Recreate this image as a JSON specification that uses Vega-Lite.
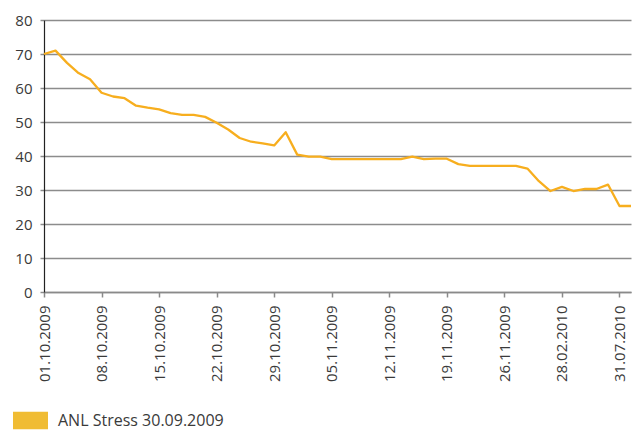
{
  "$schema": "https://vega.github.io/schema/vega-lite/v6.json",
  "width": 587,
  "height": 272,
  "autosize": {"type": "none"},
  "padding": {"left": 44, "top": 20, "right": 2, "bottom": 146},
  "background": "white",
  "config": {
    "view": {"stroke": null},
    "font": "Open Sans",
    "axis": {"labelFont": "Open Sans", "labelFontSize": 15, "labelColor": "#3a3a3a"},
    "legend": {"labelFont": "Open Sans", "labelFontSize": 16, "labelColor": "#3a3a3a", "labelLimit": 400}
  },
  "data": {
    "values": [
      {"date": "01.10.2009", "value": 70.0, "series": "ANL Stress 30.09.2009"},
      {"date": "02.10.2009", "value": 71.0, "series": "ANL Stress 30.09.2009"},
      {"date": "05.10.2009", "value": 67.4, "series": "ANL Stress 30.09.2009"},
      {"date": "06.10.2009", "value": 64.4, "series": "ANL Stress 30.09.2009"},
      {"date": "07.10.2009", "value": 62.6, "series": "ANL Stress 30.09.2009"},
      {"date": "08.10.2009", "value": 58.6, "series": "ANL Stress 30.09.2009"},
      {"date": "09.10.2009", "value": 57.5, "series": "ANL Stress 30.09.2009"},
      {"date": "12.10.2009", "value": 57.0, "series": "ANL Stress 30.09.2009"},
      {"date": "13.10.2009", "value": 54.8, "series": "ANL Stress 30.09.2009"},
      {"date": "14.10.2009", "value": 54.2, "series": "ANL Stress 30.09.2009"},
      {"date": "15.10.2009", "value": 53.7, "series": "ANL Stress 30.09.2009"},
      {"date": "16.10.2009", "value": 52.6, "series": "ANL Stress 30.09.2009"},
      {"date": "19.10.2009", "value": 52.1, "series": "ANL Stress 30.09.2009"},
      {"date": "20.10.2009", "value": 52.1, "series": "ANL Stress 30.09.2009"},
      {"date": "21.10.2009", "value": 51.5, "series": "ANL Stress 30.09.2009"},
      {"date": "22.10.2009", "value": 49.8, "series": "ANL Stress 30.09.2009"},
      {"date": "23.10.2009", "value": 47.8, "series": "ANL Stress 30.09.2009"},
      {"date": "26.10.2009", "value": 45.3, "series": "ANL Stress 30.09.2009"},
      {"date": "27.10.2009", "value": 44.2, "series": "ANL Stress 30.09.2009"},
      {"date": "28.10.2009", "value": 43.7, "series": "ANL Stress 30.09.2009"},
      {"date": "29.10.2009", "value": 43.1, "series": "ANL Stress 30.09.2009"},
      {"date": "30.10.2009", "value": 47.0, "series": "ANL Stress 30.09.2009"},
      {"date": "02.11.2009", "value": 40.4, "series": "ANL Stress 30.09.2009"},
      {"date": "03.11.2009", "value": 39.8, "series": "ANL Stress 30.09.2009"},
      {"date": "04.11.2009", "value": 39.8, "series": "ANL Stress 30.09.2009"},
      {"date": "05.11.2009", "value": 39.1, "series": "ANL Stress 30.09.2009"},
      {"date": "06.11.2009", "value": 39.1, "series": "ANL Stress 30.09.2009"},
      {"date": "09.11.2009", "value": 39.1, "series": "ANL Stress 30.09.2009"},
      {"date": "10.11.2009", "value": 39.1, "series": "ANL Stress 30.09.2009"},
      {"date": "11.11.2009", "value": 39.1, "series": "ANL Stress 30.09.2009"},
      {"date": "12.11.2009", "value": 39.1, "series": "ANL Stress 30.09.2009"},
      {"date": "13.11.2009", "value": 39.1, "series": "ANL Stress 30.09.2009"},
      {"date": "16.11.2009", "value": 39.8, "series": "ANL Stress 30.09.2009"},
      {"date": "17.11.2009", "value": 39.1, "series": "ANL Stress 30.09.2009"},
      {"date": "18.11.2009", "value": 39.2, "series": "ANL Stress 30.09.2009"},
      {"date": "19.11.2009", "value": 39.2, "series": "ANL Stress 30.09.2009"},
      {"date": "20.11.2009", "value": 37.6, "series": "ANL Stress 30.09.2009"},
      {"date": "23.11.2009", "value": 37.1, "series": "ANL Stress 30.09.2009"},
      {"date": "24.11.2009", "value": 37.1, "series": "ANL Stress 30.09.2009"},
      {"date": "25.11.2009", "value": 37.1, "series": "ANL Stress 30.09.2009"},
      {"date": "26.11.2009", "value": 37.1, "series": "ANL Stress 30.09.2009"},
      {"date": "27.11.2009", "value": 37.1, "series": "ANL Stress 30.09.2009"},
      {"date": "30.11.2009", "value": 36.3, "series": "ANL Stress 30.09.2009"},
      {"date": "31.12.2009", "value": 32.6, "series": "ANL Stress 30.09.2009"},
      {"date": "31.01.2010", "value": 29.7, "series": "ANL Stress 30.09.2009"},
      {"date": "28.02.2010", "value": 30.9, "series": "ANL Stress 30.09.2009"},
      {"date": "31.03.2010", "value": 29.7, "series": "ANL Stress 30.09.2009"},
      {"date": "30.04.2010", "value": 30.3, "series": "ANL Stress 30.09.2009"},
      {"date": "31.05.2010", "value": 30.3, "series": "ANL Stress 30.09.2009"},
      {"date": "30.06.2010", "value": 31.6, "series": "ANL Stress 30.09.2009"},
      {"date": "31.07.2010", "value": 25.3, "series": "ANL Stress 30.09.2009"},
      {"date": "31.08.2010", "value": 25.3, "series": "ANL Stress 30.09.2009"}
    ]
  },
  "mark": {"type": "line", "strokeWidth": 2.3, "strokeJoin": "round"},
  "encoding": {
    "x": {
      "field": "date",
      "type": "ordinal",
      "sort": null,
      "scale": {"type": "point", "padding": 0},
      "axis": {
        "title": null,
        "values": ["01.10.2009", "08.10.2009", "15.10.2009", "22.10.2009", "29.10.2009", "05.11.2009", "12.11.2009", "19.11.2009", "26.11.2009", "28.02.2010", "31.07.2010"],
        "labelAngle": -90,
        "labelAlign": "right",
        "labelBaseline": "middle",
        "labelPadding": 8,
        "tickSize": 5,
        "tickColor": "#8a8a8a",
        "tickWidth": 1.5,
        "domainColor": "#8a8a8a",
        "domainWidth": 1.5,
        "grid": false
      }
    },
    "y": {
      "field": "value",
      "type": "quantitative",
      "scale": {"domain": [0, 80], "nice": false, "zero": true},
      "axis": {
        "title": null,
        "values": [0, 10, 20, 30, 40, 50, 60, 70, 80],
        "grid": true,
        "gridColor": "#8c8c8c",
        "gridWidth": 1.5,
        "tickSize": 4,
        "tickColor": "#8c8c8c",
        "tickWidth": 1.5,
        "domainColor": "#222222",
        "domainWidth": 1.2,
        "labelPadding": 8
      }
    },
    "color": {
      "field": "series",
      "type": "nominal",
      "scale": {"range": ["#f7ae1e"]},
      "legend": {
        "title": null,
        "orient": "none",
        "legendX": -31,
        "legendY": 383,
        "padding": 0,
        "labelLimit": 400,
        "symbolType": "M-1,-0.5h2v1h-2z",
        "symbolSize": 1225,
        "symbolStrokeWidth": 0,
        "symbolFillColor": "#f0bc33",
        "labelOffset": 10,
        "encode": {"symbols": {"update": {"fill": {"value": "#f0bc33"}, "stroke": {"value": "transparent"}, "strokeWidth": {"value": 0}, "opacity": {"value": 1}}}}
      }
    }
  }
}
